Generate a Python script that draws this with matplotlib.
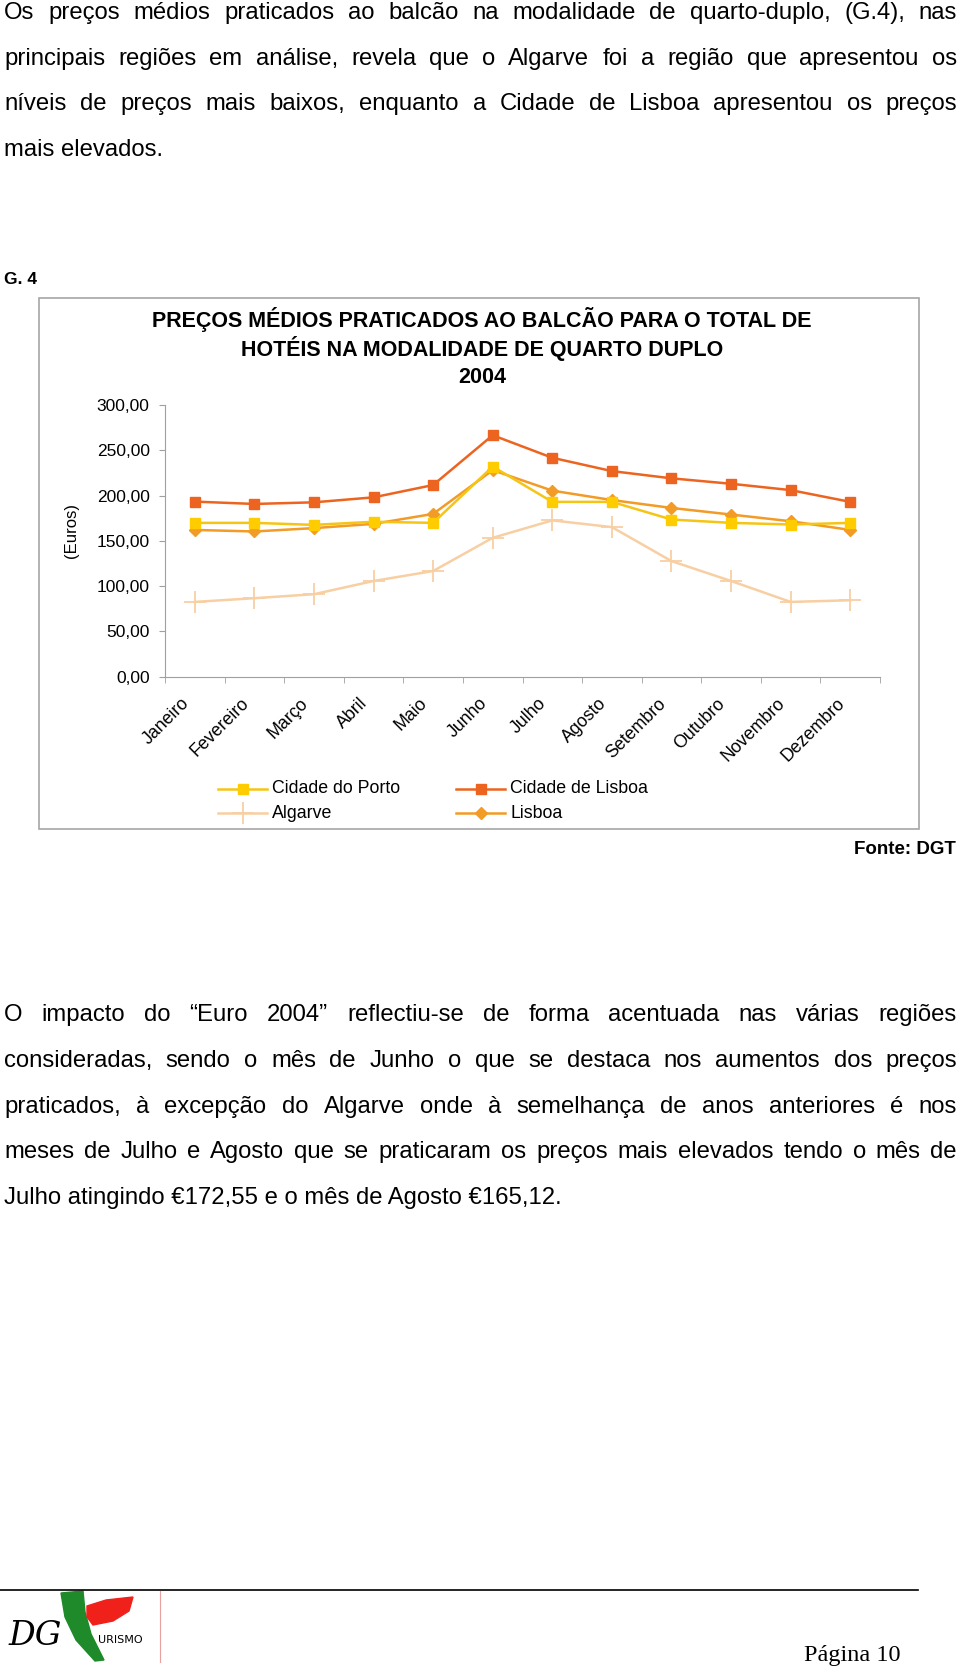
import numpy as np
import matplotlib
matplotlib.use('Agg')
import matplotlib.pyplot as plt
from matplotlib.patches import Rectangle, Polygon
from matplotlib.lines import Line2D
import matplotlib.transforms as mtrans

# data
meses = ['Janeiro', 'Fevereiro', 'Março', 'Abril', 'Maio', 'Junho', 'Julho',
         'Agosto', 'Setembro', 'Outubro', 'Novembro', 'Dezembro']
porto = [169.8, 169.8, 167.6, 171.0, 169.8, 232.0, 193.0, 193.0, 173.5, 169.8, 168.0, 169.8]
cidade_lisboa = [193.3, 190.7, 192.5, 198.0, 211.6, 266.6, 241.7, 227.0, 219.0, 213.0, 206.0, 193.0]
algarve = [82.5, 86.6, 91.0, 105.6, 116.6, 153.3, 172.55, 165.12, 127.6, 105.6, 82.5, 84.3]
lisboa = [162.0, 160.3, 164.0, 168.7, 179.7, 228.0, 205.4, 195.0, 186.3, 179.0, 171.6, 162.0]
yticks = [0, 50, 100, 150, 200, 250, 300]

titulo = ['PREÇOS MÉDIOS PRATICADOS AO BALCÃO PARA O TOTAL DE',
          'HOTÉIS NA MODALIDADE DE QUARTO DUPLO', '2004']

par1 = [
    "Os preços médios praticados ao balcão na modalidade de quarto-duplo, (G.4), nas",
    "principais regiões em análise, revela que o Algarve foi a região que apresentou os",
    "níveis de preços mais baixos, enquanto a Cidade de Lisboa apresentou os preços",
    "mais elevados.",
]
par2 = [
    "O impacto do \u201cEuro 2004\u201d reflectiu-se de forma acentuada nas várias regiões",
    "consideradas, sendo o mês de Junho o que se destaca nos aumentos dos preços",
    "praticados, à excepção do Algarve onde à semelhança de anos anteriores é nos",
    "meses de Julho e Agosto que se praticaram os preços mais elevados tendo o mês de",
    "Julho atingindo \u20ac172,55 e o mês de Agosto \u20ac165,12.",
]

W, H = 960, 1670
plt.rcParams['font.family'] = ['Liberation Sans', 'DejaVu Sans']
fig = plt.figure(figsize=(W / 100, H / 100), dpi=100)
renderer = fig.canvas.get_renderer()


def fx(px):
    return px / W


def fy(py):
    return 1 - py / H


def justified(lines, base_y, step, x0=4, x1=957, fs=17.2):
    for i, line in enumerate(lines):
        y = fy(base_y + i * step)
        if i == len(lines) - 1:
            fig.text(fx(x0), y, line, fontsize=fs, va='baseline')
            continue
        words = line.split(' ')
        texts = [fig.text(0, y, w, fontsize=fs, va='baseline') for w in words]
        widths = [t.get_window_extent(renderer).width for t in texts]
        gap = (x1 - x0 - sum(widths)) / (len(words) - 1)
        x = x0
        for t, w in zip(texts, widths):
            t.set_x(fx(x))
            x += w + gap


justified(par1, 19, 45.6)
justified(par2, 1021, 45.8)

fig.text(fx(4), fy(279), 'G. 4', fontsize=12.5, fontweight='bold', va='center')

# chart frame
fig.add_artist(Rectangle((fx(39), fy(829)), fx(918.5) - fx(39), fy(298) - fy(829),
                         transform=fig.transFigure, fill=False, edgecolor='#A6A6A6', lw=1.2))

for i, t in enumerate(titulo):
    fig.text(fx(482), fy(320 + i * 28.8), t, fontsize=15.5, fontweight='bold',
             ha='center', va='center')

ax = fig.add_axes([fx(165), fy(676.6), fx(880) - fx(165), (676.6 - 405) / H])
x = np.arange(len(meses))

series = [
    ('Algarve', algarve, dict(color='#F8CFA3', marker='+', markersize=16, mew=1.3, lw=1.8)),
    ('Lisboa', lisboa, dict(color='#F29B26', marker='D', markersize=6.5, lw=1.8)),
    ('Cidade do Porto', porto, dict(color='#F5C516', marker='s', markersize=7, lw=1.8,
                                    mfc='#FFCC00', mec='#FFCC00')),
    ('Cidade de Lisboa', cidade_lisboa, dict(color='#EC6420', marker='s', markersize=7, lw=1.8)),
]
styles = {}
for name, vals, st in series:
    ax.plot(x, vals, **st)
    styles[name] = st

ax.set_xlim(-0.5, 11.5)
ax.set_ylim(0, 300)
ax.set_yticks(yticks)
ax.set_yticklabels(['%d,00' % v for v in yticks], fontsize=12.5)
ax.tick_params(axis='y', direction='out', length=4, color='#A0A0A0', pad=7)
ax.set_xticks(x)
ax.set_xticklabels([])
ax.tick_params(axis='x', which='major', length=0)
ax.set_xticks(np.arange(-0.5, 12, 1), minor=True)
ax.tick_params(axis='x', which='minor', direction='out', length=4, color='#A0A0A0')
for s in ['top', 'right']:
    ax.spines[s].set_visible(False)
for s in ['left', 'bottom']:
    ax.spines[s].set_color('#A0A0A0')
ax.set_facecolor('none')

tr = mtrans.blended_transform_factory(ax.transData, fig.transFigure)
for i, m in enumerate(meses):
    ax.text(i - 0.14, fy(701), m, transform=tr, rotation=45, ha='right', va='center',
            rotation_mode='anchor', fontsize=12.8, clip_on=False)

fig.text(fx(72), fy(530), '(Euros)', rotation=90, fontsize=12, ha='center', va='center')

# legend
legend_pos = [('Cidade do Porto', 218, 789), ('Algarve', 218, 813),
              ('Cidade de Lisboa', 456, 789), ('Lisboa', 456, 813)]
for name, lx, ly in legend_pos:
    st = dict(styles[name])
    fig.add_artist(Line2D([fx(lx), fx(lx + 49)], [fy(ly), fy(ly)], transform=fig.transFigure,
                          color=st['color'], lw=st['lw']))
    mk = {k: v for k, v in st.items() if k in ('marker', 'markersize', 'mew', 'mfc', 'mec')}
    fig.add_artist(Line2D([fx(lx + 24.5)], [fy(ly)], transform=fig.transFigure,
                          color=st['color'], lw=0, **mk))
    fig.text(fx(lx + 54), fy(ly), name, fontsize=12.8, va='center')

fig.text(fx(956), fy(850), 'Fonte: DGT', fontsize=13.5, fontweight='bold', ha='right', va='center')

# footer
fig.add_artist(Line2D([0, fx(918)], [fy(1590), fy(1590)], transform=fig.transFigure,
                      color='black', lw=1.2))
fig.add_artist(Line2D([fx(160), fx(160)], [fy(1591), fy(1662)], transform=fig.transFigure,
                      color='#E8A0A0', lw=0.8))
green = [(61, 1593), (83, 1591), (85, 1612), (91, 1634), (104, 1660), (95, 1661),
         (76, 1640), (65, 1617)]
red = [(87, 1606), (106, 1600), (133, 1597), (129, 1611), (113, 1621), (93, 1625), (87, 1617)]
fig.add_artist(Polygon([(fx(a), fy(b)) for a, b in green], closed=True, transform=fig.transFigure,
                       color='#1E8A2A'))
fig.add_artist(Polygon([(fx(a), fy(b)) for a, b in red], closed=True, transform=fig.transFigure,
                       color='#F0201A'))
fig.text(fx(9), fy(1636), 'DG', fontsize=24, family='DejaVu Serif', style='italic',
         va='center')
fig.text(fx(98), fy(1640), 'URISMO', fontsize=8, family='DejaVu Sans', va='center')
fig.text(fx(900), fy(1655), 'Página 10', fontsize=17.5, family='Liberation Serif',
         ha='right', va='center')

fig.savefig('out.png', dpi=100)
